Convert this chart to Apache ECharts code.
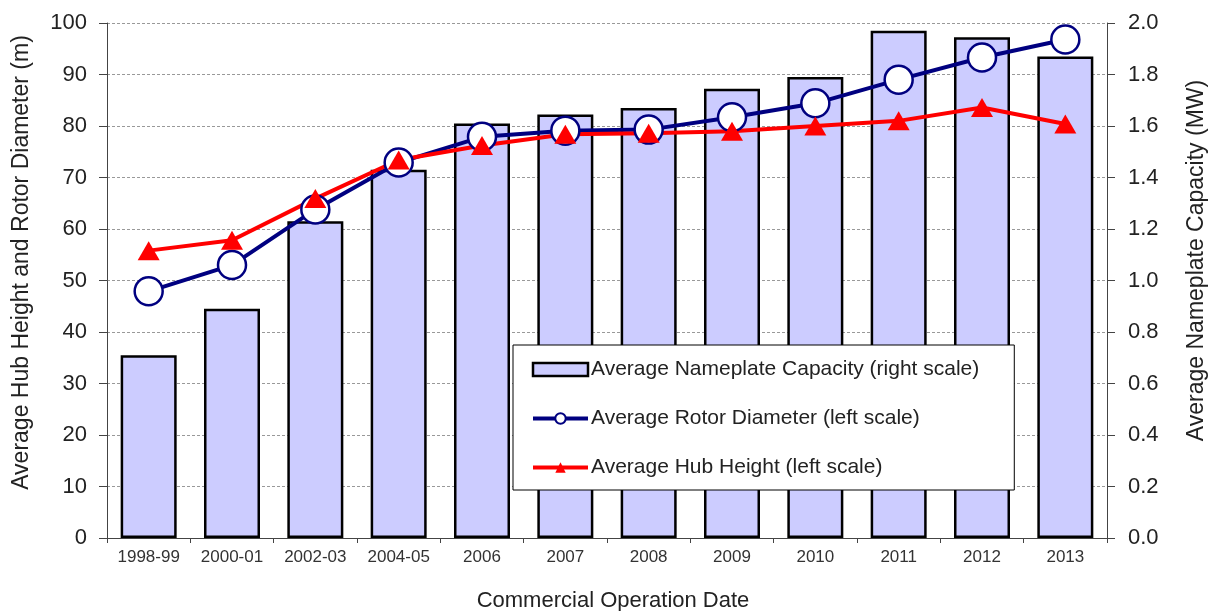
<!DOCTYPE html>
<html>
<head>
<meta charset="utf-8">
<script src="https://cdn.jsdelivr.net/npm/echarts@6/dist/echarts.min.js"></script>
<style>
  html, body { margin: 0; padding: 0; background: #fff; }
  #chart { width: 1210px; height: 611px; }
</style>
</head>
<body>
<div id="chart"></div>
<script>
var categories = ['1998-99', '2000-01', '2002-03', '2004-05', '2006', '2007', '2008', '2009', '2010', '2011', '2012', '2013'];
var nameplateCapacity = [0.71, 0.89, 1.23, 1.43, 1.61, 1.645, 1.67, 1.745, 1.79, 1.97, 1.945, 1.87];
var rotorDiameter = [47.9, 53.0, 63.8, 72.9, 77.9, 79.1, 79.3, 81.7, 84.4, 89.0, 93.3, 96.8];
var hubHeight = [55.8, 57.8, 65.9, 73.4, 76.2, 78.4, 78.6, 79.0, 80.0, 81.0, 83.6, 80.4];
var leftTicks = [0, 100, 10];
var rightTicks = [0, 2, 0.2];

var font = '"Liberation Sans", Arial, sans-serif';

var chart = echarts.init(document.getElementById('chart'), null, { renderer: 'canvas', devicePixelRatio: 1 });

var option = {
  animation: false,
  backgroundColor: '#fff',
  textStyle: { fontFamily: font },
  grid: { left: 107, right: 103, top: 23, bottom: 73, outerBoundsMode: 'none', containLabel: false },
  legend: {
    orient: 'vertical',
    left: 513,
    top: 345,
    backgroundColor: '#fff',
    borderColor: '#000',
    borderWidth: 1,
    borderRadius: 0,
    padding: [14, 35, 12, 18],
    itemGap: 28,
    itemWidth: 55,
    itemHeight: 13,
    textStyle: { fontFamily: font, fontSize: 21, color: '#222', padding: [0, 0, 0, -2] },
    data: [
      { name: 'Average Nameplate Capacity (right scale)', icon: 'rect', itemStyle: { color: '#ccccff', borderColor: '#000', borderWidth: 2.5 } },
      { name: 'Average Rotor Diameter (left scale)', lineStyle: { width: 4 } },
      { name: 'Average Hub Height (left scale)', lineStyle: { width: 4 } }
    ]
  },
  xAxis: {
    type: 'category',
    data: categories,
    name: 'Commercial Operation Date',
    nameLocation: 'middle',
    nameGap: 52,
    nameTextStyle: { fontFamily: font, fontSize: 22, color: '#222', verticalAlign: 'top', padding: [0, 0, 0, 12] },
    axisLine: { lineStyle: { color: '#444', width: 1 } },
    axisTick: { show: true, length: 5, lineStyle: { color: '#444' } },
    axisLabel: { fontFamily: font, fontSize: 17, color: '#333', margin: 11 }
  },
  yAxis: [
    {
      type: 'value',
      min: leftTicks[0],
      max: leftTicks[1],
      interval: leftTicks[2],
      name: 'Average Hub Height and Rotor Diameter (m)',
      nameLocation: 'middle',
      nameRotate: 90,
      nameGap: 74,
      nameTextStyle: { fontFamily: font, fontSize: 23, color: '#222', padding: [0, 0, 0, 36] },
      axisLine: { show: true, lineStyle: { color: '#444', width: 1 } },
      axisTick: { show: true, length: 8, lineStyle: { color: '#444' } },
      axisLabel: { fontFamily: font, fontSize: 22, color: '#222', margin: 20 },
      splitLine: { show: true, lineStyle: { color: '#999', type: [3, 2], width: 1 } }
    },
    {
      type: 'value',
      position: 'right',
      min: rightTicks[0],
      max: rightTicks[1],
      interval: rightTicks[2],
      name: 'Average Nameplate Capacity (MW)',
      nameLocation: 'middle',
      nameRotate: 90,
      nameGap: 78,
      nameTextStyle: { fontFamily: font, fontSize: 23, color: '#222', padding: [0, 0, 0, 40] },
      axisLine: { show: true, lineStyle: { color: '#444', width: 1 } },
      axisTick: { show: true, length: 8, lineStyle: { color: '#444' } },
      axisLabel: { fontFamily: font, fontSize: 22, color: '#222', margin: 21, formatter: function (v) { return v.toFixed(1); } },
      splitLine: { show: false }
    }
  ],
  series: [
    {
      name: 'Average Nameplate Capacity (right scale)',
      type: 'bar',
      yAxisIndex: 1,
      data: nameplateCapacity,
      barWidth: 56,
      itemStyle: { color: '#ccccff', borderColor: '#000', borderWidth: 2.5 }
    },
    {
      name: 'Average Rotor Diameter (left scale)',
      type: 'line',
      yAxisIndex: 0,
      data: rotorDiameter,
      symbol: 'circle',
      symbolSize: 28,
      lineStyle: { color: '#000080', width: 4 },
      itemStyle: { color: '#fff', borderColor: '#000080', borderWidth: 2.5 }
    },
    {
      name: 'Average Hub Height (left scale)',
      type: 'line',
      yAxisIndex: 0,
      data: hubHeight,
      symbol: 'triangle',
      symbolSize: [22, 19],
      lineStyle: { color: '#ff0000', width: 4 },
      itemStyle: { color: '#ff0000', borderColor: '#ff0000', borderWidth: 0 }
    }
  ]
};

chart.setOption(option);
</script>
</body>
</html>
